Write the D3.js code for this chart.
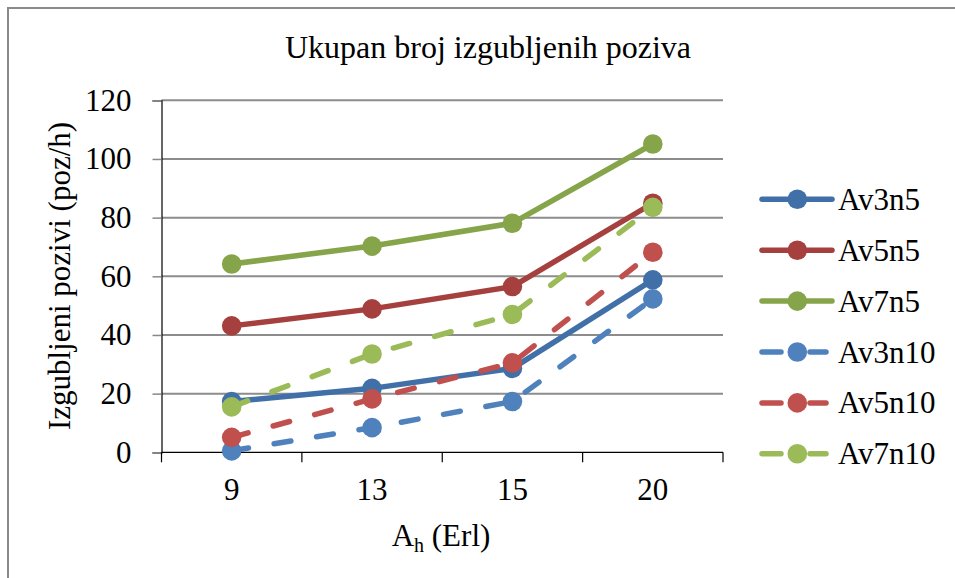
<!DOCTYPE html>
<html>
<head>
<meta charset="utf-8">
<script src="https://cdn.jsdelivr.net/npm/d3@7"></script>
<style>
  html, body { margin: 0; padding: 0; background: #fff; }
  svg { display: block; }
</style>
</head>
<body>
<svg id="chart" width="955" height="578"></svg>
<script>
const categories = ["9", "13", "15", "20"];
const seriesNames = ["Av3n5", "Av5n5", "Av7n5", "Av3n10", "Av5n10", "Av7n10"];
const Av3n5  = [17.3, 21.8, 28.6, 58.8];
const Av5n5  = [43.1, 48.9, 56.5, 84.9];
const Av7n5  = [64.2, 70.3, 78.1, 105.1];
const Av3n10 = [0.5, 8.4, 17.3, 52.3];
const Av5n10 = [5.1, 18.2, 30.5, 68.2];
const Av7n10 = [15.5, 33.5, 47.0, 83.5];
const seriesValues = [Av3n5, Av5n5, Av7n5, Av3n10, Av5n10, Av7n10];
const seriesColors = ["#4170A8", "#A5403E", "#86A44A", "#4F81BD", "#C0504D", "#9BBB59"];
const seriesDashed = [false, false, false, true, true, true];
const yTicks = [0, 20, 40, 60, 80, 100, 120];
const titleText = "Ukupan broj izgubljenih poziva";
const yTitle = "Izgubljeni pozivi (poz/h)";

const svg = d3.select("#chart");
const FS = 31;
const FONT = "Liberation Serif";

function styleText(sel, size) {
  return sel.attr("font-family", FONT).attr("font-size", size || FS).attr("fill", "#000");
}

// outer border
svg.append("rect").attr("x", 8).attr("y", 8).attr("width", 1000).attr("height", 1000)
  .attr("fill", "none").attr("stroke", "#8a8a8a").attr("stroke-width", 2);

const plot = { left: 161.5, right: 723, top: 100.3, bottom: 452.3 };
const x = d3.scaleBand().domain(categories).range([plot.left, plot.right]).padding(0);
const y = d3.scaleLinear().domain([0, 120]).range([plot.bottom, plot.top]);

// gridlines
svg.append("g").selectAll("line").data(yTicks.filter(d => d > 0)).join("line")
  .attr("x1", plot.left).attr("x2", plot.right)
  .attr("y1", d => y(d)).attr("y2", d => y(d))
  .attr("stroke", "#8c8c8c").attr("stroke-width", 2);

// y axis
const yAxis = svg.append("g").attr("transform", `translate(${plot.left},0)`)
  .call(d3.axisLeft(y).tickValues(yTicks).tickSize(9).tickPadding(21));
yAxis.attr("font-family", FONT).attr("font-size", FS);
yAxis.select(".domain").attr("stroke", "#000").attr("stroke-width", 1.2);
yAxis.selectAll(".tick line").attr("stroke", "#888").attr("stroke-width", 1.5);
styleText(yAxis.selectAll(".tick text"));

// x axis with ticks at band boundaries
const xg = svg.append("g").attr("transform", `translate(0,${plot.bottom})`);
xg.append("line").attr("x1", plot.left).attr("x2", plot.right).attr("y1", 0).attr("y2", 0)
  .attr("stroke", "#000").attr("stroke-width", 1.2);
const bounds = categories.map(c => x(c)).concat([x(categories[categories.length - 1]) + x.bandwidth()]);
xg.selectAll("line.tk").data(bounds).join("line").attr("class", "tk")
  .attr("x1", d => d).attr("x2", d => d).attr("y1", 0).attr("y2", 10)
  .attr("stroke", "#000").attr("stroke-width", 1.2);
styleText(xg.selectAll("text").data(categories).join("text")
  .attr("x", d => x(d) + x.bandwidth() / 2).attr("y", 48)
  .attr("text-anchor", "middle").text(d => d));

// title
styleText(svg.append("text").attr("x", 488).attr("y", 58).attr("text-anchor", "middle"), 32).text(titleText);

// y title
styleText(svg.append("text").attr("transform", "translate(70,276) rotate(-90)")
  .attr("text-anchor", "middle")).text(yTitle);

// x title with subscript
const xt = styleText(svg.append("text").attr("x", 441).attr("y", 546).attr("text-anchor", "middle"));
xt.append("tspan").text("A");
xt.append("tspan").attr("font-size", 20).attr("dy", 6).text("h");
xt.append("tspan").attr("dy", -6).text(" (Erl)");

// series
const lineGen = d3.line().x((d, i) => x(categories[i]) + x.bandwidth() / 2).y(d => y(d));
const LW = 5.5, R = 9.8;
seriesValues.forEach((vals, s) => {
  const g = svg.append("g");
  g.append("path").datum(vals).attr("d", lineGen)
    .attr("fill", "none").attr("stroke", seriesColors[s]).attr("stroke-width", LW)
    .attr("stroke-linecap", "round").attr("stroke-linejoin", "round")
    .attr("stroke-dasharray", seriesDashed[s] ? "17,26" : null);
  g.selectAll("circle").data(vals).join("circle")
    .attr("cx", (d, i) => x(categories[i]) + x.bandwidth() / 2).attr("cy", d => y(d))
    .attr("r", R).attr("fill", seriesColors[s]);
});

// legend
const lg = svg.append("g");
seriesNames.forEach((name, s) => {
  const cy = 199.3 + s * 50.9;
  const row = lg.append("g");
  if (seriesDashed[s]) {
    row.append("line").attr("x1", 762).attr("x2", 781).attr("y1", cy).attr("y2", cy)
      .attr("stroke", seriesColors[s]).attr("stroke-width", LW).attr("stroke-linecap", "round");
    row.append("line").attr("x1", 810).attr("x2", 826).attr("y1", cy).attr("y2", cy)
      .attr("stroke", seriesColors[s]).attr("stroke-width", LW).attr("stroke-linecap", "round");
  } else {
    row.append("line").attr("x1", 762).attr("x2", 832).attr("y1", cy).attr("y2", cy)
      .attr("stroke", seriesColors[s]).attr("stroke-width", LW).attr("stroke-linecap", "round");
  }
  row.append("circle").attr("cx", 797.3).attr("cy", cy).attr("r", R).attr("fill", seriesColors[s]);
  styleText(row.append("text").attr("x", 838).attr("y", cy + 10.5)).text(name);
});
</script>
</body>
</html>
